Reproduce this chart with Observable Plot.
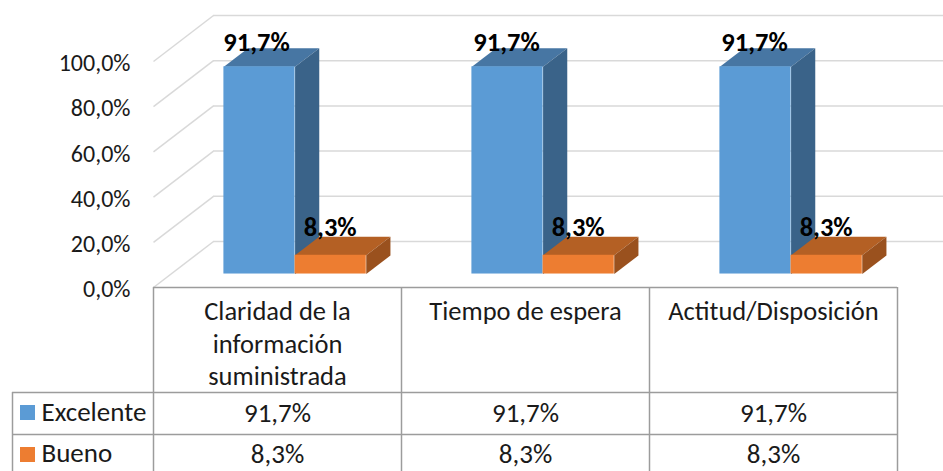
<!DOCTYPE html>
<html>
<head>
<meta charset="utf-8">
<style>html,body{margin:0;padding:0;background:#fff}svg{display:block}</style>
<script src="https://cdn.jsdelivr.net/npm/d3@7"></script>
<script src="https://cdn.jsdelivr.net/npm/@observablehq/plot@0.6"></script>
</head>
<body>
<div id="chart"></div>
<script>
const categories = ["Claridad de la\ninformación\nsuministrada", "Tiempo de espera", "Actitud/Disposición"];
const excelente = [91.7, 91.7, 91.7];
const bueno = [8.3, 8.3, 8.3];
const seriesNames = ["Excelente", "Bueno"];
const seriesColors = ["#5B9BD5", "#ED7D31"];
const yTicks = [0, 20, 40, 60, 80, 100];

const FONT = "Carlito, Lato, sans-serif";
const fmt = v => v.toFixed(1).replace(".", ",") + "%";

// Frame layout of the pseudo-3D box
const X0 = 153, X1 = 897, Y0 = 287, Y100 = 61;
const xUnit = (X1 - X0) / 3, yUnit = (Y0 - Y100) / 100;
const toX = px => (px - X0) / xUnit;
const toY = px => (Y0 - px) / yUnit;
const kx = 60 / xUnit, ky = 46 / yUnit;         // depth vector in data units
const depthFront = 0.293, depthBack = 0.696;
const barW = 0.287, barStart = (1 - 2 * barW) / 2;

const P = (x, y, d) => ({x: x + kx * d, y: y + ky * d});
const GRID = "#d9d9d9", TABLE = "#9c9c9c", TXT = "#1a1a1a";

function barMarks(values, offset, front, top, side) {
  const marks = [];
  values.forEach((v, i) => {
    const a = i + barStart + offset * barW, b = a + barW;
    marks.push(Plot.line([P(a, v, depthFront), P(b, v, depthFront), P(b, v, depthBack), P(a, v, depthBack)],
      {x: "x", y: "y", fill: top, stroke: "none"}));
    marks.push(Plot.line([P(b, 0, depthFront), P(b, v, depthFront), P(b, v, depthBack), P(b, 0, depthBack)],
      {x: "x", y: "y", fill: side, stroke: "none"}));
    marks.push(Plot.rect([{a, b, v}],
      {x1: d => d.a + kx * depthFront, x2: d => d.b + kx * depthFront,
       y1: () => ky * depthFront, y2: d => d.v + ky * depthFront, fill: front}));
  });
  return marks;
}

function labelMarks(values, offset, dy, shift) {
  return Plot.text(values, {
    x: (d, i) => i + barStart + offset * barW + barW / 2 + kx * depthFront + shift[i] / xUnit,
    y: d => d + ky * depthFront,
    text: d => fmt(d), dy, fontSize: 26.5, fontWeight: 700, fill: "#000", fontFamily: FONT
  });
}

const tableRows = [toY(392), toY(434)];
const colX = [0, 1, 2, 3];

const plot = Plot.plot({
  width: 943, height: 471,
  marginLeft: X0, marginRight: 943 - X1, marginTop: 0, marginBottom: 0,
  style: {fontFamily: FONT, background: "#fff", color: TXT},
  x: {domain: [0, 3], range: [X0, X1], axis: null},
  y: {domain: [0, 100], range: [Y0, Y100], axis: null},
  marks: [
    // back wall and side wall
    Plot.ruleY(yTicks, {y: d => d + ky, x1: kx, x2: 3 + kx, stroke: GRID, strokeWidth: 1.5}),
    Plot.link(yTicks, {x1: 0, y1: d => d, x2: kx, y2: d => d + ky, stroke: GRID, strokeWidth: 1.5}),
    Plot.axisY(yTicks, {anchor: "left", label: null, tickSize: 0, tickPadding: 23, dy: 2, tickFormat: fmt,
      fontSize: 24, fill: TXT, fontFamily: FONT}),
    // bars
    ...barMarks(excelente, 0, seriesColors[0], "#4776A3", "#3A6389"),
    ...barMarks(bueno, 1, seriesColors[1], "#B46024", "#9A511E"),
    labelMarks(excelente, 0, -24, [-3, -1, -1]),
    labelMarks(bueno, 1, -28, [-0.5, -0.5, -0.5]),
    // data table grid
    Plot.ruleY([0], {x1: 0, x2: 3, stroke: TABLE, strokeWidth: 1.5}),
    Plot.ruleX(colX, {y1: 0, y2: toY(471), stroke: TABLE, strokeWidth: 1.5}),
    Plot.ruleY(tableRows, {x1: toX(12), x2: 3, stroke: TABLE, strokeWidth: 1.5}),
    Plot.ruleX([toX(12)], {y1: tableRows[0], y2: toY(471), stroke: TABLE, strokeWidth: 1.5}),
    // table contents
    Plot.text(categories, {x: (d, i) => i + 0.5, y: toY(297), text: d => d, lineAnchor: "top",
      lineHeight: 1.22, fontSize: 26.5, fill: TXT, fontFamily: FONT}),
    Plot.text(excelente, {x: (d, i) => i + 0.5, y: toY(413), text: d => fmt(d), fontSize: 27, fill: TXT, fontFamily: FONT}),
    Plot.text(bueno, {x: (d, i) => i + 0.5, y: toY(454), text: d => fmt(d), fontSize: 27, fill: TXT, fontFamily: FONT}),
    // legend keys in the table
    Plot.rect(seriesColors, {x1: toX(20), x2: toX(35), y1: (d, i) => toY([405, 447][i]), y2: (d, i) => toY([420, 462][i]), fill: d => d}),
    Plot.text(seriesNames, {x: toX(41), y: (d, i) => toY([412, 453][i]), text: d => d, textAnchor: "start",
      fontSize: 27, fill: TXT, fontFamily: FONT})
  ]
});
document.getElementById("chart").append(plot);
</script>
</body>
</html>
